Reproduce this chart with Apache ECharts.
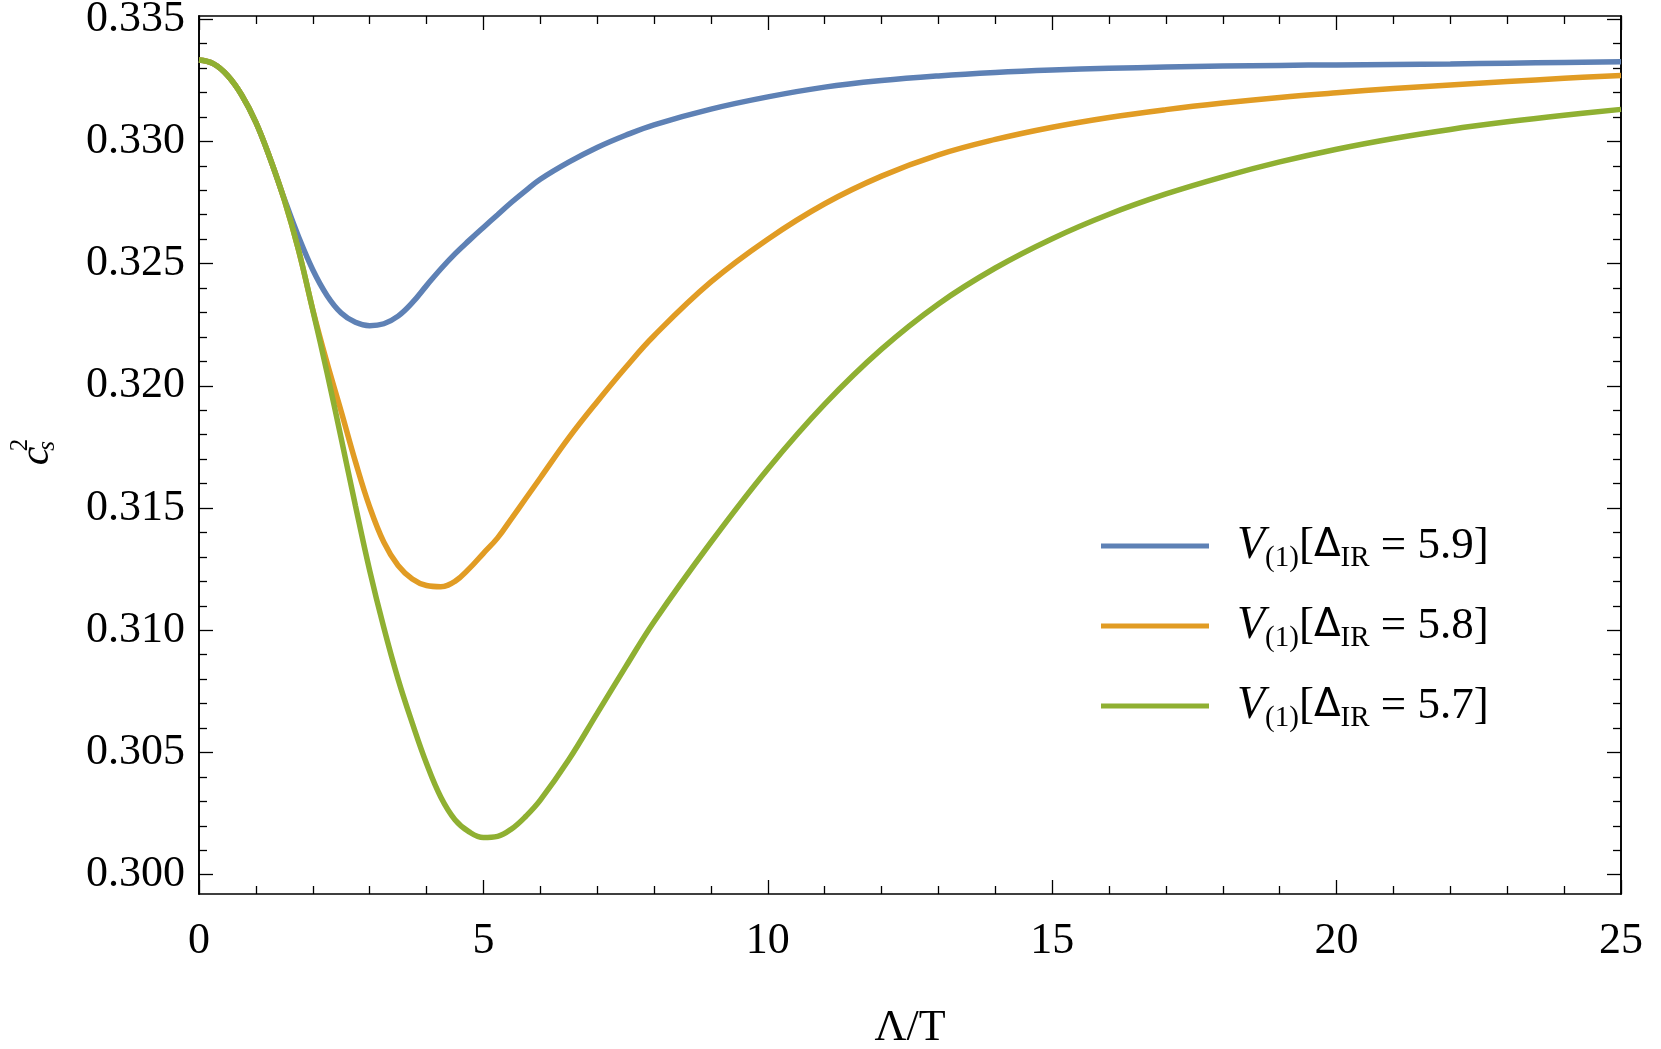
<!DOCTYPE html>
<html>
<head>
<meta charset="utf-8">
<title>c_s^2 vs Lambda/T</title>
<script src="https://cdn.jsdelivr.net/npm/echarts@6/dist/echarts.min.js"></script>
<style>
  html, body { margin: 0; padding: 0; background: #fff; }
  #chart { width: 1661px; height: 1049px; }
</style>
</head>
<body>
<div id="chart"></div>
<script>
// Lambda/T sample points
const lambdaT = [0, 0.25, 0.5, 0.75, 1, 1.25, 1.5, 1.75, 2, 2.25, 2.5, 2.75, 3, 3.25, 3.5, 3.75, 4, 4.25, 4.5, 4.75, 5, 5.25, 5.5, 5.75, 6, 6.5, 7, 7.5, 8, 9, 10, 11, 12, 13, 14, 15, 16, 17, 18, 19, 20, 21, 22, 23, 24, 25]

// c_s^2 for each Delta_IR
const cs2_59 = [0.33333, 0.33318, 0.33270, 0.33190, 0.33078, 0.32930, 0.32765, 0.32610, 0.32475, 0.32370, 0.32298, 0.32260, 0.32246, 0.32254, 0.32285, 0.32340, 0.32410, 0.32478, 0.32540, 0.32595, 0.32648, 0.32700, 0.32752, 0.32800, 0.32845, 0.32915, 0.32975, 0.33025, 0.33068, 0.33132, 0.33182, 0.33222, 0.33249, 0.33268, 0.33282, 0.33292, 0.33299, 0.33304, 0.33308, 0.33311, 0.33313, 0.33315, 0.33317, 0.33320, 0.33323, 0.33326]
const cs2_58 = [0.33333, 0.33318, 0.33270, 0.33190, 0.33078, 0.32930, 0.32760, 0.32555, 0.32312, 0.32095, 0.31895, 0.31690, 0.31505, 0.31360, 0.31265, 0.31210, 0.31183, 0.31178, 0.31200, 0.31252, 0.31315, 0.31378, 0.31459, 0.31541, 0.31623, 0.31787, 0.31935, 0.32075, 0.32205, 0.32425, 0.32600, 0.32745, 0.32858, 0.32945, 0.33008, 0.33058, 0.33098, 0.33130, 0.33157, 0.33180, 0.33199, 0.33216, 0.33231, 0.33245, 0.33258, 0.33270]
const cs2_57 = [0.33333, 0.33318, 0.33270, 0.33190, 0.33078, 0.32930, 0.32760, 0.32555, 0.32310, 0.32055, 0.31785, 0.31510, 0.31245, 0.31010, 0.30800, 0.30620, 0.30455, 0.30318, 0.30225, 0.30175, 0.30152, 0.30157, 0.30188, 0.30240, 0.30305, 0.30470, 0.30660, 0.30850, 0.31035, 0.31360, 0.31660, 0.31925, 0.32150, 0.32335, 0.32482, 0.32602, 0.32702, 0.32785, 0.32855, 0.32916, 0.32968, 0.33012, 0.33049, 0.33080, 0.33107, 0.33131]

const deltaIR = ['5.9', '5.8', '5.7']
const colors = ['#5E81B5', '#E19C24', '#8FB032']

// tick labels
const yMajor = [0.300, 0.305, 0.310, 0.315, 0.320, 0.325, 0.330, 0.335]
const yMinor = []
for (let i = 0; i <= 35; i++) {
  if (i % 5 !== 0) yMinor.push(+(0.300 + i * 0.001).toFixed(3))
}

const serif = '"Liberation Serif", "DejaVu Serif", serif'
const names = deltaIR.map(d => 'V(1)[ΔIR = ' + d + ']')
const values = [cs2_59, cs2_58, cs2_57]

const tickStyle = { color: '#000', width: 1.3 }

function xAxisCfg(position, withLabels) {
  return {
    type: 'value',
    position: position,
    min: 0,
    max: 25,
    interval: 5,
    name: withLabels ? 'Λ/T' : '',
    nameLocation: 'middle',
    nameGap: 112,
    nameTextStyle: { fontFamily: serif, fontSize: 44, color: '#000' },
    axisLine: { show: true, lineStyle: { color: '#000', width: 1.6 } },
    axisTick: { show: true, inside: true, length: 14, lineStyle: tickStyle },
    minorTick: { show: true, splitNumber: 5, length: 8, lineStyle: tickStyle },
    axisLabel: {
      show: withLabels,
      margin: 25,
      fontFamily: serif,
      fontSize: 44,
      color: '#000'
    },
    splitLine: { show: false }
  }
}

function yAxisCfg(position, ticks, len, withLabels) {
  return {
    type: 'value',
    position: position,
    min: 0.29921,
    max: 0.33513,
    axisLine: { show: true, lineStyle: { color: '#000', width: 1.6 } },
    axisTick: { show: true, inside: true, length: len, customValues: ticks, lineStyle: tickStyle },
    axisLabel: {
      show: withLabels,
      customValues: ticks,
      margin: 14,
      fontFamily: serif,
      fontSize: 44,
      color: '#000',
      formatter: v => v.toFixed(3)
    },
    splitLine: { show: false }
  }
}

function nameText(str, x, y, size, italic) {
  return {
    type: 'text',
    x: x,
    y: y,
    rotation: Math.PI / 2,
    style: {
      text: str,
      fontFamily: serif,
      fontStyle: italic ? 'italic' : 'normal',
      fontSize: size,
      fill: '#000',
      align: 'center',
      verticalAlign: 'middle'
    }
  }
}

const myChart = echarts.init(document.getElementById('chart'))
myChart.setOption({
  animation: false,
  backgroundColor: '#fff',
  grid: { left: 199, right: 40, top: 16, bottom: 155, containLabel: false, outerBoundsMode: 'none' },
  xAxis: [xAxisCfg('bottom', true), xAxisCfg('top', false)],
  yAxis: [
    yAxisCfg('left', yMajor, 14, true),
    yAxisCfg('left', yMinor, 8, false),
    yAxisCfg('right', yMajor, 14, false),
    yAxisCfg('right', yMinor, 8, false)
  ],
  legend: {
    orient: 'vertical',
    left: 1101,
    top: 523,
    padding: 0,
    itemGap: 30,
    itemWidth: 108,
    itemHeight: 5,
    icon: 'rect',
    data: names,
    formatter: function (name) {
      const d = deltaIR[names.indexOf(name)]
      return '{v|V}{sub|(1)}{t|[}{d|Δ}{sub|IR}{t| = ' + d + ']}'
    },
    textStyle: {
      rich: {
        v: { fontFamily: serif, fontStyle: 'italic', fontSize: 46, lineHeight: 54, color: '#000', padding: [0, 0, 0, 23] },
        sub: { fontFamily: serif, fontSize: 29, lineHeight: 22, verticalAlign: 'bottom', color: '#000' },
        t: { fontFamily: serif, fontSize: 45, lineHeight: 54, color: '#000' },
        d: { fontFamily: 'DejaVu Sans', fontSize: 39, lineHeight: 54, color: '#000' }
      }
    }
  },
  graphic: [
    // y axis name c_s^2, reading bottom to top
    nameText('c', 36.5, 456, 42, true),
    nameText('2', 20, 445, 25, false),
    nameText('s', 47.5, 446, 25, true)
  ],
  series: names.map((name, i) => ({
    name: name,
    type: 'line',
    xAxisIndex: 0,
    yAxisIndex: 0,
    smooth: 0.4,
    showSymbol: false,
    symbol: 'none',
    color: colors[i],
    lineStyle: { width: 5.5, color: colors[i] },
    data: lambdaT.map((x, k) => [x, values[i][k]])
  }))
})
</script>
</body>
</html>
